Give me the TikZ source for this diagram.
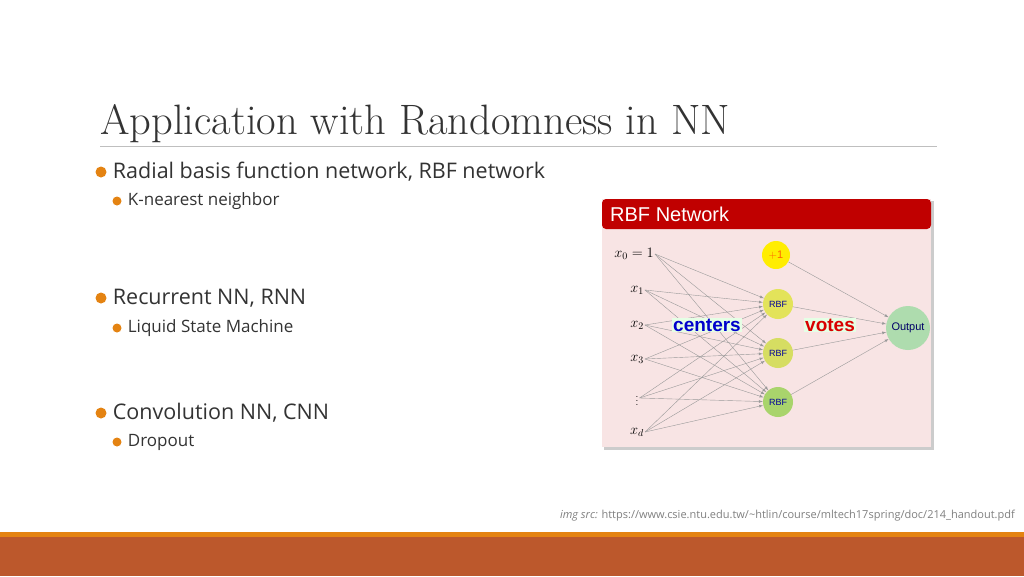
\documentclass[tikz,border=0pt]{standalone}
\usepackage{fontspec}
\setsansfont{Open Sans}
\newfontfamily\helv{Liberation Sans}
\usetikzlibrary{positioning}
\definecolor{bulletorange}{HTML}{E48312}
\definecolor{barrust}{HTML}{BC582C}
\definecolor{panelred}{HTML}{C00000}
\definecolor{panelpink}{HTML}{F8E4E4}
\definecolor{rbfa}{HTML}{E3E35A}
\definecolor{rbfb}{HTML}{D6DD62}
\definecolor{rbfc}{HTML}{A9D46C}
\definecolor{outgreen}{HTML}{AEDCAE}
\tikzset{
  bulletdot/.style={circle,fill=bulletorange,inner sep=0pt,minimum size=#1},
  mainitem/.style={anchor=west,font=\sffamily\fontsize{21.5}{22}\selectfont,text=black!80,inner sep=0pt},
  subitem/.style={anchor=west,font=\sffamily\fontsize{17}{17}\selectfont,text=black!80,inner sep=0pt},
  inlabel/.style={font=\helv\fontsize{14}{14}\selectfont,inner sep=1pt},
  unit/.style={circle,inner sep=0pt,minimum size=30pt,font=\helv\fontsize{9}{9}\selectfont,text=blue!60!black},
  wire/.style={black!40,line width=.4pt,-latex}
}
\begin{document}
\begin{tikzpicture}[x=1pt,y=-1pt]
    \useasboundingbox (0,0) rectangle (1024,576);
    \fill[white] (0,0) rectangle (1024,576);

    % title and rule
    \node[anchor=base west,inner sep=0pt,font=\fontsize{42.5}{43}\selectfont,text=black!80] (title) at (100,134) {Application with Randomness in NN};
    \draw[black!25,line width=1pt] (100,146) -- (937,146);

    % bullets
    \foreach \name/\y/\txt in {rbf/172/{Radial basis function network, RBF network},rnn/298/{Recurrent NN, RNN},cnn/413/{Convolution NN, CNN}}{
        \node[bulletdot=11pt] (b\name) at (101,\y) {};
        \node[mainitem,right=6pt of b\name] {\txt};
    }
    \foreach \name/\y/\txt in {knn/201/{K-nearest neighbor},lsm/328/{Liquid State Machine},drop/442/{Dropout}}{
        \node[bulletdot=9pt] (s\name) at (117,\y) {};
        \node[subitem,right=6pt of s\name] {\txt};
    }

    % RBF network panel
    \fill[black!20] (604,201) rectangle (934,450);
    \fill[panelpink] (602,199) rectangle (931,447);
    \fill[panelred,rounded corners=4pt] (602,199) rectangle (931,229);
    \node[anchor=west,font=\helv\fontsize{20}{20}\selectfont,text=white,inner sep=0pt] (head) at (610,214) {RBF Network};

    \node[inlabel,anchor=east] (x0) at (655,254) {$x_0 = 1$};
    \node[inlabel] (x1) at (637,290) {$x_1$};
    \node[inlabel] (x2) at (637,325) {$x_2$};
    \node[inlabel] (x3) at (637,359) {$x_3$};
    \node[inlabel,font=\fontsize{10}{10}\selectfont] (xdots) at (637,398) {$\vdots$};
    \node[inlabel] (xd) at (637,432) {$x_d$};

    \node[unit,fill=yellow!95!orange,text=orange!80!red,minimum size=28pt,font=\helv\fontsize{11}{11}\selectfont] (one) at (776,255) {$+$1};
    \node[unit,fill=rbfa] (r1) at (778,304) {RBF};
    \node[unit,fill=rbfb] (r2) at (778,353) {RBF};
    \node[unit,fill=rbfc] (r3) at (778,402) {RBF};
    \node[unit,fill=outgreen,minimum size=44pt,text=blue!40!black,font=\helv\fontsize{11}{11}\selectfont] (out) at (908,328) {Output};

    \foreach \a in {x0,x1,x2,x3,xdots,xd}
        \foreach \b in {r1,r2,r3}
            \draw[wire] (\a.east) -- (\b);
    \foreach \b in {one,r1,r2,r3}
        \draw[wire] (\b) -- (out);

    \node[fill=green!10,font=\helv\bfseries\fontsize{19}{19}\selectfont,text=blue!80!black,inner sep=1pt] (centers) at (707,325) {centers};
    \node[fill=green!10,font=\helv\bfseries\fontsize{19}{19}\selectfont,text=red!85!black,inner sep=1pt] (votes) at (830,325) {votes};

    % source
    \node[anchor=east,font=\sffamily\fontsize{11}{11}\selectfont,text=black!50,inner sep=0pt] (src) at (1015,516) {\textit{img src:} https://www.csie.ntu.edu.tw/\textasciitilde htlin/course/mltech17spring/doc/214\_handout.pdf};

    % footer bars
    \fill[bulletorange] (0,532) rectangle (1024,537);
    \fill[barrust] (0,537) rectangle (1024,576);
\end{tikzpicture}
\end{document}
